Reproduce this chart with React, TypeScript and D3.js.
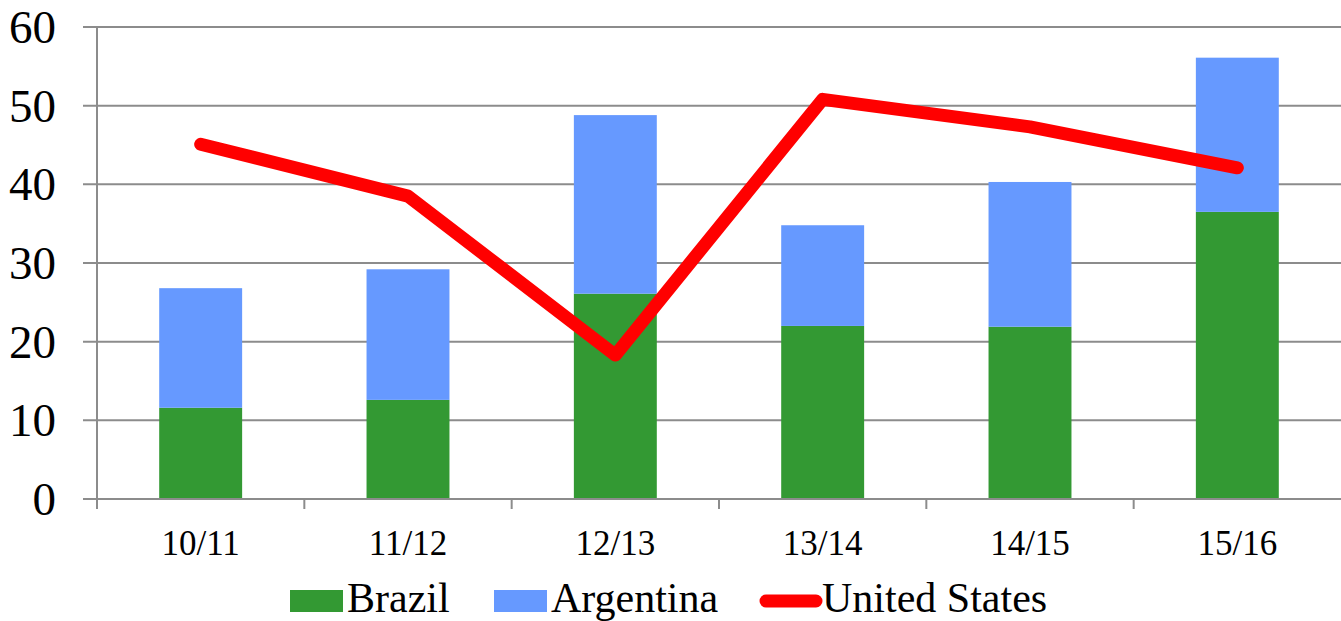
import React, { useEffect, useRef } from 'react';
import * as d3 from 'd3';

const seasons = ['10/11', '11/12', '12/13', '13/14', '14/15', '15/16'];
const brazil = [11.6, 12.6, 26.1, 22.0, 21.9, 36.5];
const argentina = [15.2, 16.6, 22.7, 12.8, 18.4, 19.6];
const unitedStates = [45.1, 38.5, 18.3, 50.8, 47.3, 42.1];
const yTicks = [0, 10, 20, 30, 40, 50, 60];

const W = 1341;
const H = 621;
const FONT = '"Liberation Serif", "Times New Roman", serif';

const App: React.FC = () => {
  const svgRef = useRef<SVGSVGElement>(null);

  useEffect(() => {
    if (!svgRef.current) return;
    const svg = d3.select(svgRef.current);
    svg.selectAll('*').remove();

    const left = 97;
    const right = 1341;
    const top = 27;
    const bottom = 499;

    const x = d3.scaleBand<string>().domain(seasons).range([left, right]).paddingInner(0.6).paddingOuter(0.3);
    const band = d3.scaleBand<string>().domain(seasons).range([left, right]);
    const y = d3.scaleLinear().domain([0, 60]).range([bottom, top]);

    // gridlines + y labels
    svg.append('g')
      .selectAll('line')
      .data(yTicks)
      .enter().append('line')
      .attr('x1', left - 14)
      .attr('x2', right)
      .attr('y1', d => y(d))
      .attr('y2', d => y(d))
      .attr('stroke', '#8c8c8c')
      .attr('stroke-width', 2);

    svg.append('g')
      .selectAll('text')
      .data(yTicks)
      .enter().append('text')
      .attr('x', 56)
      .attr('y', d => y(d))
      .attr('dy', '0.34em')
      .attr('text-anchor', 'end')
      .style('font-family', FONT)
      .style('font-size', '47px')
      .style('fill', '#000')
      .text(d => d);

    // stacked bars
    const bars = svg.append('g');
    seasons.forEach((s, i) => {
      bars.append('rect')
        .attr('x', x(s)!)
        .attr('width', x.bandwidth())
        .attr('y', y(brazil[i]))
        .attr('height', y(0) - y(brazil[i]))
        .attr('fill', '#339933');
      bars.append('rect')
        .attr('x', x(s)!)
        .attr('width', x.bandwidth())
        .attr('y', y(brazil[i] + argentina[i]))
        .attr('height', y(brazil[i]) - y(brazil[i] + argentina[i]))
        .attr('fill', '#6699FF');
    });

    // axes lines
    svg.append('line')
      .attr('x1', left).attr('x2', left)
      .attr('y1', top).attr('y2', bottom + 10)
      .attr('stroke', '#8c8c8c').attr('stroke-width', 2);
    svg.append('line')
      .attr('x1', left).attr('x2', right)
      .attr('y1', bottom).attr('y2', bottom)
      .attr('stroke', '#8c8c8c').attr('stroke-width', 2);
    svg.append('g')
      .selectAll('line')
      .data(seasons.slice(1))
      .enter().append('line')
      .attr('x1', d => band(d)!)
      .attr('x2', d => band(d)!)
      .attr('y1', bottom)
      .attr('y2', bottom + 10)
      .attr('stroke', '#8c8c8c')
      .attr('stroke-width', 2);

    // x labels
    svg.append('g')
      .selectAll('text')
      .data(seasons)
      .enter().append('text')
      .attr('x', d => band(d)! + band.bandwidth() / 2)
      .attr('y', 555)
      .attr('text-anchor', 'middle')
      .style('font-family', FONT)
      .style('font-size', '35px')
      .style('fill', '#000')
      .text(d => d);

    // US line
    const line = d3.line<number>()
      .x((_, i) => band(seasons[i])! + band.bandwidth() / 2)
      .y(d => y(d));
    svg.append('path')
      .datum(unitedStates)
      .attr('d', line)
      .attr('fill', 'none')
      .attr('stroke', '#FF0000')
      .attr('stroke-width', 13)
      .attr('stroke-linecap', 'round')
      .attr('stroke-linejoin', 'round');

    // legend
    const lg = svg.append('g').style('font-family', FONT).style('font-size', '42px');
    lg.append('rect').attr('x', 290).attr('y', 590).attr('width', 53).attr('height', 22).attr('fill', '#339933');
    lg.append('text').attr('x', 347).attr('y', 612).text('Brazil');
    lg.append('rect').attr('x', 494).attr('y', 590).attr('width', 53).attr('height', 22).attr('fill', '#6699FF');
    lg.append('text').attr('x', 551).attr('y', 612).text('Argentina');
    lg.append('line').attr('x1', 766).attr('x2', 816).attr('y1', 601).attr('y2', 601)
      .attr('stroke', '#FF0000').attr('stroke-width', 13).attr('stroke-linecap', 'round');
    lg.append('text').attr('x', 822).attr('y', 612).text('United States');
  }, []);

  return (
    <svg
      ref={svgRef}
      width={W}
      height={H}
      style={{ position: 'absolute', left: 0, top: 0, background: '#fff' }}
    />
  );
};

export default App;
